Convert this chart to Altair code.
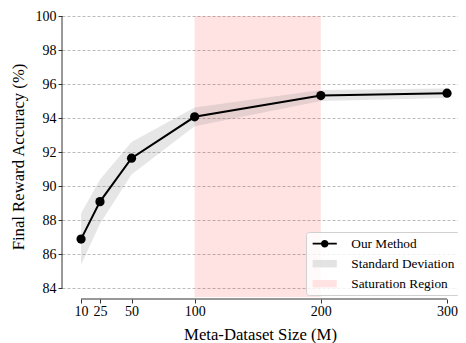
import altair as alt
import pandas as pd

# ---- data ----
sizes = [10, 25, 50, 100, 200, 300]
accuracy = [86.9, 89.1, 91.65, 94.08, 95.33, 95.47]
std_dev = [1.5, 1.3, 0.95, 0.55, 0.32, 0.28]
sat_start = 100
sat_end = 200
x_ticks = [10, 25, 50, 100, 200, 300]
y_ticks = [84, 86, 88, 90, 92, 94, 96, 98, 100]
legend_labels = ["Our Method", "Standard Deviation", "Saturation Region"]

df = pd.DataFrame({
    "size": sizes,
    "acc": accuracy,
    "lo": [a - s for a, s in zip(accuracy, std_dev)],
    "hi": [a + s for a, s in zip(accuracy, std_dev)],
})
leg_df = pd.DataFrame({"entry": legend_labels, "size": [150] * 3, "acc": [50.0] * 3})

FONT = "Liberation Serif"
PLOT_W = 396
PLOT_H = 281
xs = alt.Scale(domain=[-5.1, 308.7], nice=False, zero=False)
ys = alt.Scale(domain=[83.5, 100], nice=False, zero=False)

x_axis = alt.Axis(values=x_ticks, title="Meta-Dataset Size (M)", grid=False, offset=2,
                  tickSize=4, labelPadding=1, titlePadding=8, labelAngle=0)
y_axis = alt.Axis(values=y_ticks, title="Final Reward Accuracy (%)", grid=True,
                  gridDash=[3, 2], gridColor="#aaaaaa", gridWidth=0.8,
                  tickSize=4, labelPadding=2, titlePadding=8)

base = alt.Chart(df)

sat = alt.Chart(pd.DataFrame({"a": [sat_start], "b": [sat_end]})).mark_rect(
    color="red", opacity=0.11
).encode(
    x=alt.X("a:Q", scale=xs, axis=x_axis),
    x2="b:Q",
)

band = base.mark_area(color="#808080", opacity=0.2).encode(
    x=alt.X("size:Q", scale=xs, axis=x_axis),
    y=alt.Y("lo:Q", scale=ys, axis=y_axis),
    y2="hi:Q",
)

line = base.mark_line(color="black", strokeWidth=2).encode(
    x=alt.X("size:Q", scale=xs, axis=x_axis),
    y=alt.Y("acc:Q", scale=ys, axis=y_axis),
)

pts = base.mark_point(filled=True, color="black", opacity=1, size=85).encode(
    x=alt.X("size:Q", scale=xs, axis=x_axis),
    y=alt.Y("acc:Q", scale=ys, axis=y_axis),
)

# trimmed spines (seaborn despine trim style)
left_spine = alt.Chart(pd.DataFrame({"y0": [84], "y1": [100]})).mark_rule(
    color="#333333", strokeWidth=1
).encode(x=alt.value(0), y=alt.Y("y0:Q", scale=ys, axis=y_axis), y2="y1:Q")

bottom_spine = alt.Chart(pd.DataFrame({"x0": [10], "x1": [300]})).mark_rule(
    color="#333333", strokeWidth=1
).encode(y=alt.value(PLOT_H + 2), x=alt.X("x0:Q", scale=xs, axis=x_axis), x2="x1:Q")

line_marker_path = ("M-1,-0.17H3.83V0.17H-1Z "
                    "M2.165,0A0.75,0.75,0,1,1,0.665,0A0.75,0.75,0,1,1,2.165,0Z")
patch_path = "M-1,-0.75H3.83V0.75H-1Z"

legend_props = dict(title=None, orient="none", legendX=244, legendY=216,
                    labelFont=FONT, labelFontSize=13.3, labelColor="black",
                    labelOffset=27, rowPadding=6, padding=5,
                    fillColor="rgba(255,255,255,0.8)", strokeColor="#d0d0d0",
                    cornerRadius=3, symbolStrokeWidth=0)

legend_layer = alt.Chart(leg_df).mark_point(filled=True, opacity=1, size=144, clip=True).encode(
    x=alt.X("size:Q", scale=xs, axis=x_axis),
    y=alt.Y("acc:Q", scale=ys, axis=y_axis),
    color=alt.Color("entry:N", scale=alt.Scale(domain=legend_labels,
                                               range=["black", "#e3e3e3", "#ffe3e3"]),
                    legend=alt.Legend(**legend_props)),
    shape=alt.Shape("entry:N", scale=alt.Scale(domain=legend_labels,
                                               range=[line_marker_path, patch_path, patch_path]),
                    legend=alt.Legend(**legend_props)),
)

chart = alt.layer(sat, band, line, pts, left_spine, bottom_spine, legend_layer).properties(
    width=PLOT_W, height=PLOT_H,
    autosize=alt.AutoSizeParams(type="none"),
    padding={"left": 54, "top": 8, "right": 0, "bottom": 46},
).configure_axis(
    labelFont=FONT, titleFont=FONT, labelFontSize=14, titleFontSize=16.7,
    titleFontWeight="normal", labelColor="black", titleColor="black",
    tickColor="#333333", domain=False,
).configure_view(strokeWidth=0)

chart.save("out.html", embed_options={"renderer": "svg", "actions": False})
